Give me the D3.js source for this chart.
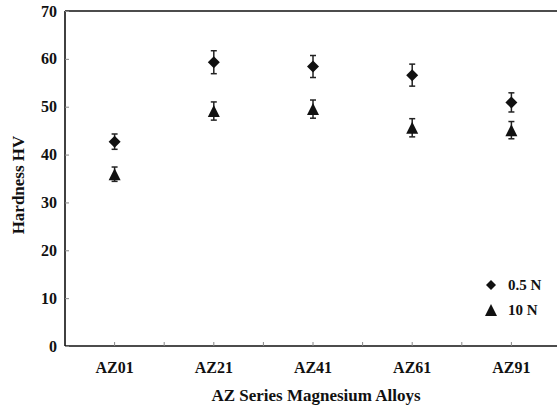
<!DOCTYPE html>
<html><head><meta charset="utf-8">
<script src="https://cdn.jsdelivr.net/npm/d3@7"></script>
<style>
html,body{margin:0;padding:0;background:#fff;}
svg text{font-family:"Liberation Serif","Times New Roman",serif;font-weight:bold;fill:#111;}
</style></head>
<body>
<svg id="c" width="557" height="410"></svg>
<script>
const categories = ["AZ01","AZ21","AZ41","AZ61","AZ91"];
const seriesNames = ["0.5 N","10 N"];
const hv05 = [42.7, 59.3, 58.4, 56.6, 50.9];
const err05 = [1.6, 2.4, 2.3, 2.3, 2.0];
const hv10 = [35.9, 49.1, 49.5, 45.6, 45.1];
const err10 = [1.5, 1.9, 1.9, 1.9, 1.8];
const yTicks = [0,10,20,30,40,50,60,70];

const svg = d3.select("#c");
const L = 65, T = 11, B = 346, R = 561;
const x = d3.scaleBand().domain(categories).range([L, R]).padding(0);
const y = d3.scaleLinear().domain([0,70]).range([B, T]);

// frame
svg.append("line").attr("x1",L).attr("x2",L).attr("y1",T).attr("y2",B).attr("stroke","#111").attr("stroke-width",1.6);
svg.append("line").attr("x1",L).attr("x2",557).attr("y1",T).attr("y2",T).attr("stroke","#111").attr("stroke-width",1.6);
svg.append("line").attr("x1",L).attr("x2",557).attr("y1",B).attr("y2",B).attr("stroke","#111").attr("stroke-width",1.6);

// y axis
const ya = svg.append("g").attr("transform",`translate(${L},0)`)
  .call(d3.axisRight(y).tickValues(yTicks).tickSize(4).tickFormat(""));
ya.select(".domain").remove();
ya.selectAll(".tick line").attr("stroke","#888").attr("stroke-width",1);
svg.append("g").selectAll("text").data(yTicks).join("text")
  .attr("x",57).attr("y",d=>y(d)).attr("dy","0.35em").attr("text-anchor","end")
  .attr("font-size",16).text(d=>d);

// x ticks (centers and band boundaries)
const xtickPos = [];
categories.forEach(c=>{ xtickPos.push(x(c)+x.bandwidth()/2); if (c!==categories[categories.length-1]) xtickPos.push(x(c)+x.bandwidth()); });
svg.append("g").selectAll("line").data(xtickPos).join("line")
  .attr("x1",d=>d).attr("x2",d=>d).attr("y1",B).attr("y2",B-4)
  .attr("stroke","#888").attr("stroke-width",1);
svg.append("g").selectAll("text").data(categories).join("text")
  .attr("x",d=>x(d)+x.bandwidth()/2).attr("y",373).attr("text-anchor","middle")
  .attr("font-size",16).text(d=>d);

// axis titles
svg.append("text").attr("x",316).attr("y",401).attr("text-anchor","middle").attr("font-size",17).text("AZ Series Magnesium Alloys");
svg.append("text").attr("transform","translate(24,185) rotate(-90)").attr("text-anchor","middle").attr("font-size",17).text("Hardness HV");

// symbols centered in box
const diamond = {draw(ctx, s){ ctx.moveTo(0,-s); ctx.lineTo(s,0); ctx.lineTo(0,s); ctx.lineTo(-s,0); ctx.closePath(); }};
const tri = {draw(ctx, s){ ctx.moveTo(0,-s); ctx.lineTo(s,s); ctx.lineTo(-s,s); ctx.closePath(); }};

function drawSeries(vals, errs, sym, sz){
  const g = svg.append("g");
  const cx = (d,i)=>x(categories[i])+x.bandwidth()/2;
  g.selectAll("line.eb").data(vals).join("line").attr("class","eb")
    .attr("x1",cx).attr("x2",cx).attr("y1",(d,i)=>y(d+errs[i])).attr("y2",(d,i)=>y(d-errs[i]))
    .attr("stroke","#222").attr("stroke-width",1.5);
  [1,-1].forEach(sg=>{
    g.selectAll("line.cap"+sg).data(vals).join("line").attr("class","cap"+sg)
      .attr("x1",(d,i)=>cx(d,i)-3).attr("x2",(d,i)=>cx(d,i)+3)
      .attr("y1",(d,i)=>y(d+sg*errs[i])).attr("y2",(d,i)=>y(d+sg*errs[i]))
      .attr("stroke","#222").attr("stroke-width",1.5);
  });
  g.selectAll("path").data(vals).join("path")
    .attr("transform",(d,i)=>`translate(${cx(d,i)},${y(d)})`)
    .attr("d", d3.symbol().type(sym).size(sz)).attr("fill","#111");
}
drawSeries(hv05, err05, diamond, 6);
drawSeries(hv10, err10, tri, 6);

// legend
const lg = svg.append("g");
const legY = [285, 310];
[diamond, tri].forEach((s,i)=>{
  lg.append("path").attr("transform",`translate(491,${legY[i]})`).attr("d", d3.symbol().type(s).size(i===0?5:6)).attr("fill","#111");
  lg.append("text").attr("x", 508).attr("y", legY[i]).attr("dy","0.35em").attr("font-size",15).text(seriesNames[i]);
});
</script>
</body></html>
